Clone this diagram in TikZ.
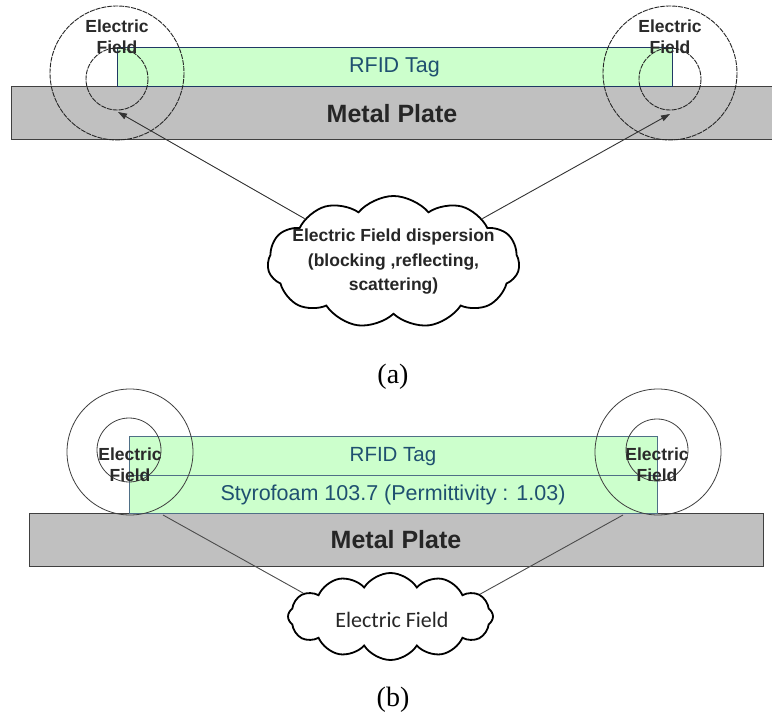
\documentclass[tikz,border=0pt]{standalone}
\usepackage{fontspec}
\setmainfont{Liberation Sans}
\newfontfamily\capfont{Liberation Serif}
\newfontfamily\calfont{Carlito}
\usetikzlibrary{shapes.symbols,arrows.meta}
\definecolor{tagfill}{HTML}{CCFFCC}
\definecolor{tagedgeA}{HTML}{1F3864}
\definecolor{tagedgeB}{HTML}{4F6F86}
\definecolor{tagtext}{HTML}{1F5070}
\definecolor{platefill}{HTML}{C0C0C0}
\definecolor{plateedge}{HTML}{404040}
\definecolor{fieldtext}{HTML}{2A2A2A}
\tikzset{
  plate/.style={draw=plateedge, line width=1pt, fill=platefill, inner sep=0pt,
    font=\fontsize{25}{28}\selectfont\bfseries, text=black!85},
  tagbox/.style={fill=tagfill, inner sep=0pt, text=tagtext},
  fieldA/.style={draw=black!85, line width=0.9pt, dash pattern=on 5pt off 1pt},
  fieldB/.style={draw=black!75, line width=0.8pt},
  fieldlabel/.style={font=\fontsize{17.5}{21}\selectfont\bfseries, text=fieldtext,
    align=center, inner sep=0pt},
  cloudbox/.style={cloud, draw=black, line width=1.8pt, fill=white, cloud ignores aspect,
    inner sep=0pt},
  cloudtext/.style={align=center, inner sep=0pt, text=black!85},
  pointer/.style={draw=black!80, line width=0.9pt},
  caption/.style={font=\capfont\fontsize{28}{30}\selectfont, inner sep=0pt}
}
\begin{document}
\begin{tikzpicture}[x=1pt,y=-1pt]
\useasboundingbox[fill=white] (0,0) rectangle (772,719);

% ---------- (a) tag directly on the metal plate ----------
\node[plate, minimum width=762pt, minimum height=53pt] (plateA) at (392,113.5) {Metal Plate};
\node[tagbox, draw=tagedgeA, line width=1pt, minimum width=555pt, minimum height=39pt,
      font=\fontsize{21.5}{24}\selectfont] (tagA) at (394.5,67.5) {RFID Tag};

\draw[fieldA] (117,73) circle[radius=67];
\draw[fieldA] (117,79) circle[radius=31];
\draw[fieldA] (670,73) circle[radius=67];
\draw[fieldA] (670,79) circle[radius=31];

\node[fieldlabel] (efAL) at (117,37) {Electric\\Field};
\node[fieldlabel] (efAR) at (670,37) {Electric\\Field};

\node[cloudbox, cloud puffs=11, cloud puff arc=100, minimum width=252pt, minimum height=132pt]
      (cloudA) at (393.5,262) {};
\node[cloudtext, font=\fontsize{17.5}{24.5}\selectfont\bfseries] (cloudAtext) at (cloudA.center)
      {Electric Field dispersion\\(blocking ,reflecting,\\scattering)};

\coordinate (tipAL) at (118,112);
\coordinate (tipAR) at (670,114);
\draw[pointer, -{Triangle[length=9pt,width=6pt]}] (cloudA.154) -- (tipAL);
\draw[pointer, -{Triangle[length=9pt,width=6pt]}] (cloudA.26) -- (tipAR);

\node[caption] (capA) at (393,377) {(a)};

% ---------- (b) tag raised on a styrofoam spacer ----------
\node[plate, minimum width=734pt, minimum height=52pt] (plateB) at (396,540) {Metal Plate};
\node[tagbox, draw=tagedgeB, line width=1pt, minimum width=528pt, minimum height=39pt,
      font=\fontsize{20.5}{24}\selectfont] (tagB) at (393,456.5) {RFID Tag};
\node[tagbox, draw=tagedgeB, line width=1pt, minimum width=528pt, minimum height=38pt,
      font=\fontsize{21.5}{24}\selectfont] (foamB) at (393,495)
      {Styrofoam 103.7 (Permittivity : 1.03)};

\draw[fieldB] (130,452) circle[radius=63];
\draw[fieldB] (129,450) circle[radius=32];
\draw[fieldB] (658,452) circle[radius=63];
\draw[fieldB] (657,450) circle[radius=31];

\node[fieldlabel] (efBL) at (130,465) {Electric\\Field};
\node[fieldlabel] (efBR) at (657,465) {Electric\\Field};

\node[cloudbox, cloud puffs=12, cloud puff arc=115, minimum width=205pt, minimum height=87pt]
      (cloudB) at (390.5,616.5) {};
\node[cloudtext, font=\calfont\fontsize{22}{24}\selectfont] (cloudBtext) at (392,620)
      {Electric Field};

\coordinate (footBL) at (163,515);
\coordinate (footBR) at (623,515);
\draw[pointer, draw=black!70] (footBL) -- (cloudB.165);
\draw[pointer, draw=black!70] (footBR) -- (cloudB.14);

\node[caption] (capB) at (393,700) {(b)};
\end{tikzpicture}
\end{document}
